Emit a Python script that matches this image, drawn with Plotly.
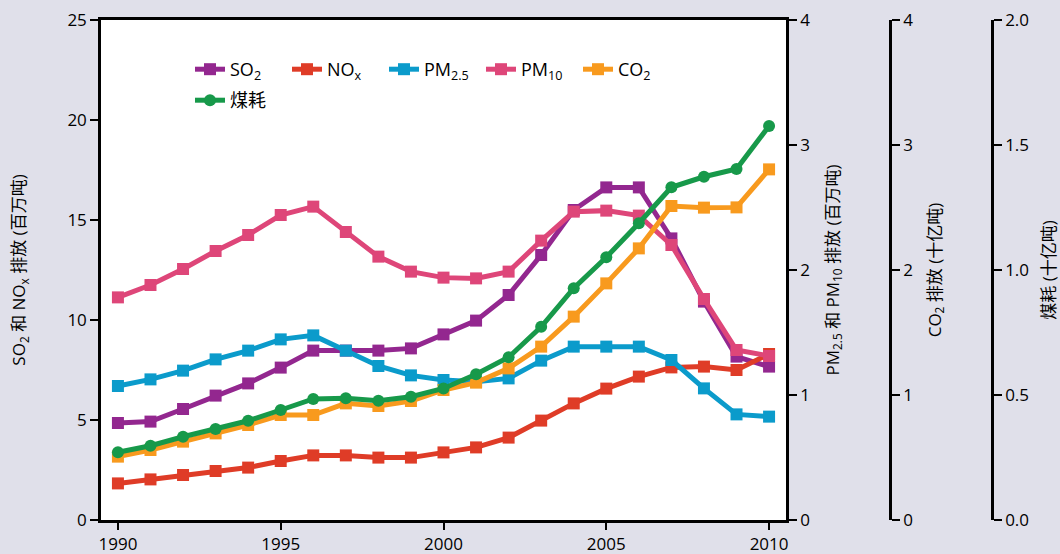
import plotly.graph_objects as go

# ---- data ----
years = list(range(1990, 2011))

so2 = [4.85, 4.92, 5.55, 6.22, 6.83, 7.62, 8.47, 8.47, 8.47, 8.58, 9.28,
       9.97, 11.25, 13.25, 15.5, 16.63, 16.63, 14.08, 10.92, 8.17, 7.67]      # Mt
nox = [1.83, 2.03, 2.25, 2.45, 2.62, 2.95, 3.23, 3.23, 3.12, 3.12, 3.38,
       3.63, 4.12, 4.97, 5.83, 6.57, 7.17, 7.63, 7.67, 7.5, 8.3]             # Mt
pm25 = [1.072, 1.125, 1.195, 1.285, 1.355, 1.445, 1.477, 1.355, 1.232, 1.157, 1.12,
        1.107, 1.133, 1.275, 1.387, 1.387, 1.387, 1.28, 1.053, 0.845, 0.827]  # Mt
pm10 = [1.781, 1.88, 2.008, 2.152, 2.28, 2.44, 2.507, 2.304, 2.107, 1.987, 1.939,
        1.933, 1.987, 2.235, 2.467, 2.475, 2.435, 2.2, 1.768, 1.36, 1.312]    # Mt
co2 = [0.507, 0.56, 0.627, 0.693, 0.76, 0.84, 0.84, 0.933, 0.912, 0.952, 1.04,
       1.099, 1.213, 1.387, 1.627, 1.893, 2.173, 2.512, 2.499, 2.501, 2.805]  # Gt
coal = [0.271, 0.297, 0.333, 0.364, 0.397, 0.44, 0.484, 0.487, 0.477, 0.493, 0.526,
        0.583, 0.651, 0.773, 0.927, 1.051, 1.187, 1.331, 1.373, 1.404, 1.576]  # Gt

names = ["SO<sub>2</sub>", "NO<sub>x</sub>", "PM<sub>2.5</sub>", "PM<sub>10</sub>",
         "CO<sub>2</sub>", "煤耗"]
colors = ["#93278f", "#df3c27", "#0b9bcb", "#de4679", "#f89a1e", "#17994a"]

# ---- layout constants ----
W, H = 1060, 554
BG = "#e0e0ea"
FONT = "Open Sans, Noto Sans CJK SC, sans-serif"
X0, X1 = 101, 786          # plot box left/right (px)
Y0, Y1 = 20, 520           # plot box top/bottom (px)
CO2_AX, COAL_AX = 890, 992  # extra axis positions (px)

xdom = [X0 / W, X1 / W]
ydom = [(H - Y1) / H, (H - Y0) / H]

fig = go.Figure()

series = [(so2, "y"), (nox, "y"), (pm25, "y2"), (pm10, "y2"), (co2, "y3"), (coal, "y4")]
for i, (vals, ax) in enumerate(series):
    fig.add_trace(go.Scatter(
        x=years, y=vals, name=names[i], yaxis=ax, mode="lines+markers",
        line=dict(color=colors[i], width=5),
        marker=dict(symbol="circle" if i == 5 else "square", size=12, color=colors[i]),
        legend="legend2" if i == 5 else "legend",
    ))

tickfont = dict(family=FONT, size=17, color="black")
titlefont = dict(family=FONT, size=17, color="black")
axis_common = dict(showgrid=False, zeroline=False, showline=True, linecolor="black",
                   linewidth=2.5, ticks="outside", ticklen=8, tickwidth=2,
                   tickcolor="black", tickfont=tickfont, automargin=False)
legfont = dict(family=FONT, size=18, color="black")

fig.update_layout(
    width=W, height=H,
    margin=dict(l=0, r=0, t=0, b=0),
    paper_bgcolor=BG, plot_bgcolor="white",
    showlegend=True,
    xaxis=dict(domain=xdom, range=[1989.48, 2010.52], tickvals=[1990, 1995, 2000, 2005, 2010],
               mirror=True, **{**axis_common, "ticklen": 7}),
    yaxis=dict(domain=ydom, range=[0, 25], dtick=5, anchor="x", side="left",
               title=dict(text="SO<sub>2</sub> 和 NO<sub>x</sub> 排放 (百万吨)", font=titlefont, standoff=38),
               **axis_common),
    yaxis2=dict(range=[0, 4], dtick=1, anchor="x", overlaying="y", side="right",
                title=dict(text="PM<sub>2.5</sub> 和 PM<sub>10</sub> 排放 (百万吨)", font=titlefont, standoff=18),
                **axis_common),
    yaxis3=dict(range=[0, 4], dtick=1, anchor="free", position=CO2_AX / W, overlaying="y", side="right",
                title=dict(text="CO<sub>2</sub> 排放 (十亿吨)", font=titlefont, standoff=16),
                **axis_common),
    yaxis4=dict(range=[0, 2], dtick=0.5, tickformat=".1f", anchor="free", position=COAL_AX / W,
                overlaying="y", side="right",
                title=dict(text="煤耗 (十亿吨)", font=titlefont, standoff=17),
                **axis_common),
    legend=dict(orientation="h", x=190 / W, y=(H - 51) / H, xanchor="left", yanchor="top",
                bgcolor="rgba(0,0,0,0)", font=legfont,
                entrywidth=52, traceorder="normal"),
    legend2=dict(orientation="h", x=190 / W, y=(H - 82) / H, xanchor="left", yanchor="top",
                 bgcolor="rgba(0,0,0,0)", font=legfont),
)

fig.write_html("out.html")
